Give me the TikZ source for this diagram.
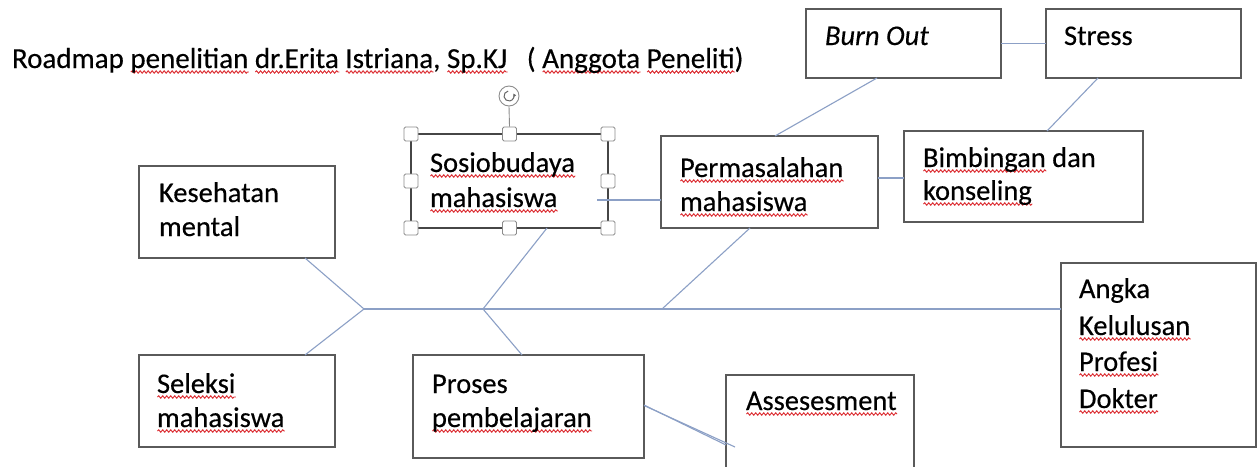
\documentclass[tikz,border=0pt]{standalone}
\usepackage{fontspec}
\setmainfont{Carlito}
\usetikzlibrary{arrows.meta,decorations.pathmorphing}
\definecolor{wavered}{RGB}{220,45,50}
\definecolor{boxgray}{RGB}{90,90,90}
\definecolor{bonecol}{RGB}{140,160,198}
\definecolor{handlegray}{RGB}{140,140,140}
\newdimen\sqwd
\newcommand\sq[1]{\settowidth\sqwd{#1}\rlap{\tikz[baseline=0pt]\draw[wavered, line width=0.95pt, decorate, decoration={snake, amplitude=1.2pt, segment length=4pt}] (0pt,-4pt) -- (\sqwd,-4pt);}#1}
\begin{document}
\begin{tikzpicture}[x=1pt,y=-1pt,
  box/.style={draw=boxgray, line width=1.2pt, inner sep=0pt, outer sep=0pt, anchor=north west, rectangle},
  txt/.style={anchor=base west, inner sep=0pt, outer sep=0pt, text=black, font=\fontsize{28.5}{34}\selectfont\addfontfeatures{FakeBold=0.35}},
  bone/.style={draw=bonecol, line width=1.1pt},
  handle/.style={draw=handlegray, fill=white, rounded corners=1.5pt, minimum size=14pt, inner sep=0pt, line width=0.9pt}]
\fill[white] (0,0) rectangle (1260,466);
\useasboundingbox (0,0) rectangle (1260,466);

% boxes
\node[box, minimum width=196pt, minimum height=92pt] (kes) at (139,166) {};
\node[box, minimum width=196pt, minimum height=92pt] (sel) at (139,355) {};
\node[box, draw=gray!55!black, line width=1.5pt, minimum width=197pt, minimum height=94pt] (sos) at (411,134) {};
\node[box, minimum width=231pt, minimum height=103pt] (pro) at (413,355) {};
\node[box, minimum width=217pt, minimum height=92pt] (per) at (661,136) {};
\node[box, minimum width=239pt, minimum height=91pt] (bim) at (904,131) {};
\node[box, minimum width=195pt, minimum height=69pt] (bur) at (806,9) {};
\node[box, minimum width=195pt, minimum height=69pt] (str) at (1046,9) {};
\node[box, minimum width=195pt, minimum height=184pt] (ang) at (1061,263) {};
\node[box, minimum width=188pt, minimum height=130pt] (ass) at (726,375) {};

% texts
\node[txt, font=\fontsize{29}{34}\selectfont\addfontfeatures{FakeBold=0.35}] (title) at (12,68) {Roadmap \sq{penelitian} \sq{dr.Erita} \sq{Istriana}, \sq{Sp.KJ}\ \ \ ( \sq{Anggota} \sq{Peneliti})};
\node[txt] (kesA) at (159,202) {Kesehatan};
\node[txt] (kesB) at (159,236) {mental};
\node[txt] (selA) at (157,393) {\sq{Seleksi}};
\node[txt] (selB) at (157,427) {\sq{mahasiswa}};
\node[txt] (proA) at (432,393) {Proses};
\node[txt] (proB) at (432,427) {\sq{pembelajaran}};
\node[txt] (sosA) at (430,172) {\sq{Sosiobudaya}};
\node[txt] (sosB) at (430,207) {\sq{mahasiswa}};
\node[txt] (perA) at (680,177) {\sq{Permasalahan}};
\node[txt] (perB) at (680,211) {\sq{mahasiswa}};
\node[txt] (bimA) at (923,167) {\sq{Bimbingan} dan};
\node[txt] (bimB) at (923,200) {\sq{konseling}};
\node[txt] (burA) at (825,45) {\textit{Burn Out}};
\node[txt] (strA) at (1064,45) {Stress};
\node[txt] (assA) at (746,410) {\sq{Assesesment}};
\node[txt] (angA) at (1079,298) {Angka};
\node[txt] (angB) at (1079,335) {\sq{Kelulusan}};
\node[txt] (angC) at (1079,371) {\sq{Profesi}};
\node[txt] (angD) at (1079,408) {\sq{Dokter}};

% spine and junctions
\coordinate (j1) at (364,309);
\coordinate (j2) at (483,309);
\coordinate (j3) at (662,309);
\coordinate (sp) at (597,200);
\coordinate (pa1) at (735,447);
\coordinate (pa2) at (726,445);
\draw[bone] (j1) -- (j1 -| ang.west);
\draw[bone] ([xshift=166pt]kes.south west) -- (j1);
\draw[bone] ([xshift=166pt]sel.north west) -- (j1);
\draw[bone] ([xshift=136pt]sos.south west) -- (j2);
\draw[bone] ([xshift=109pt]pro.north west) -- (j2);
\draw[bone] ([xshift=89pt]per.south west) -- (j3);
\draw[bone] (sp) -- (sp -| per.west);
\draw[bone] ([yshift=4pt]per.east) -- ([yshift=4pt]per.east -| bim.west);
\draw[bone] ([xshift=114pt]per.north west) -- ([xshift=71pt]bur.south west);
\draw[bone] (bur.east) -- (str.west);
\draw[bone] ([xshift=52pt]str.south west) -- ([xshift=143pt]bim.north west);
\draw[bone] ([yshift=1pt]pro.east) -- (pa1);
\draw[bone] ([yshift=1.5pt]pro.east) -- (pa2);

% selection handles
\node[circle, draw=handlegray, fill=white, minimum size=20pt, inner sep=0pt, line width=0.9pt] (rot) at (509,96) {};
\node[handle] (hn) at (sos.north) {};
\draw[handlegray, line width=0.9pt] (rot.south) -- (hn.north);
\draw[gray!80!black, line width=1pt, -{Latex[length=3pt,width=3.5pt]}] ([shift={(100:5pt)}]rot.center) arc[start angle=100, end angle=390, radius=5pt];
\node[handle] (hnw) at (sos.north west) {};
\node[handle] (hne) at (sos.north east) {};
\node[handle] (hw) at (sos.west) {};
\node[handle] (he) at (sos.east) {};
\node[handle] (hsw) at (sos.south west) {};
\node[handle] (hs) at (sos.south) {};
\node[handle] (hse) at (sos.south east) {};
\end{tikzpicture}
\end{document}
